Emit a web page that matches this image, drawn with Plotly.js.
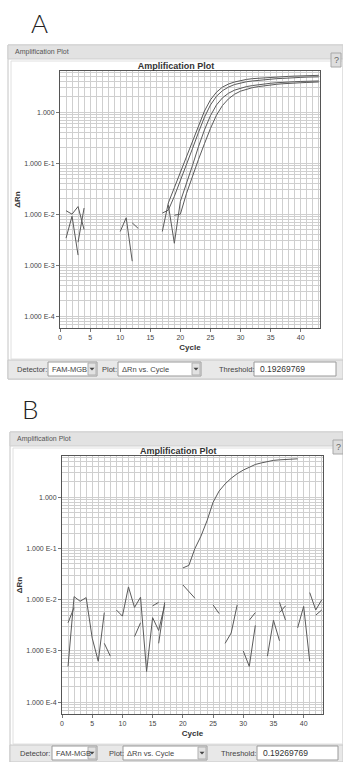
<!DOCTYPE html>
<html>
<head>
<meta charset="utf-8">
<script src="https://cdn.plot.ly/plotly-3.0.1.min.js"></script>
<style>
  html, body { margin: 0; padding: 0; background: #ffffff; }
  #chart { width: 343px; height: 762px; }
</style>
</head>
<body>
<div id="chart"></div>
<script>
// ---------- data ----------
const cycles = [0,1,2,3,4,5,6,7,8,9,10,11,12,13,14,15,16,17,18,19,20,21,22,23,24,25,26,27,28,29,30,31,32,33,34,35,36,37,38,39,40,41,42,43];

// Panel A: four amplified wells (ΔRn, null where ΔRn <= 0)
const wellA1 = [null,0.00339,0.00912,0.00158,null,null,null,null,null,null,0.00457,0.00851,0.0012,null,null,null,null,0.00457,0.0166,0.0331,0.0661,0.132,0.275,0.562,1.047,1.738,2.455,3.09,3.548,3.89,4.169,4.365,4.519,4.624,4.732,4.842,4.898,4.955,5.012,5.07,5.129,5.152,5.188,5.248];
const wellA2 = [null,0.0117,0.0100,0.0141,0.0050,null,null,null,null,null,null,null,null,null,null,null,null,0.0105,0.012,0.0224,0.0447,0.0891,0.191,0.398,0.794,1.38,2.042,2.63,3.09,3.467,3.715,3.936,4.074,4.217,4.315,4.416,4.519,4.571,4.677,4.732,4.786,4.842,4.898,4.898];
const wellA3 = [null,null,null,null,null,null,null,null,null,null,null,null,0.00676,0.00525,null,null,null,null,0.0151,0.00269,0.0178,0.038,0.0891,0.209,0.447,0.851,1.38,1.905,2.344,2.692,2.951,3.162,3.311,3.467,3.589,3.673,3.758,3.846,3.89,3.936,3.981,4.027,4.074,4.074];
const wellA4 = [null,null,null,0.00282,0.0132,null,null,null,null,null,null,null,null,null,null,null,null,null,null,0.00955,0.01,0.0251,0.0562,0.1175,0.24,0.479,0.871,1.349,1.82,2.239,2.57,2.818,3.02,3.162,3.311,3.428,3.508,3.589,3.673,3.715,3.758,3.802,3.846,3.89];

// Panel B: one amplified well and three baseline (noise) wells
const wellB1 = [null,null,null,null,null,null,null,null,null,null,null,null,null,null,null,null,null,null,null,null,0.0417,0.0468,0.1,0.174,0.347,0.794,1.318,1.82,2.344,2.884,3.388,3.89,4.365,4.677,5.012,5.248,5.37,5.495,5.559,5.623,null,null,null,null];
const wellB2 = [null,0.0005,0.0115,0.00933,0.011,0.00178,0.00063,0.00562,null,0.00631,0.00479,0.0178,0.00708,0.0112,0.000398,0.00447,0.00251,0.00794,null,null,null,null,null,null,null,0.00794,0.00537,null,null,null,0.001,0.0005,0.00316,null,0.000794,0.00398,0.00158,null,null,0.00282,0.00741,0.00063,null,null];
const wellB3 = [null,0.00355,0.00708,null,null,null,null,null,null,null,null,null,0.00191,0.00355,null,0.00759,0.00891,null,null,null,0.0195,0.0141,0.0107,null,null,null,null,0.00141,0.00224,0.00794,null,0.00398,0.00562,null,null,null,0.00891,0.00398,null,null,null,0.0138,0.00631,0.01];
const wellB4 = [null,null,null,null,null,null,null,0.00141,0.000794,null,null,null,null,null,null,null,0.00141,0.00891,null,null,null,null,null,null,null,null,null,null,null,null,null,null,null,null,null,null,0.00562,0.00759,null,null,null,null,0.00501,0.00631];

const threshold = 0.19269769;
const yDecades = [0.0001, 0.001, 0.01, 0.1, 1];
const yTickLabels = ["1.000 E-4", "1.000 E-3", "1.000 E-2", "1.000 E-1", "1.000"];
const xTicks = [0, 5, 10, 15, 20, 25, 30, 35, 40];
const xTickLabels = ["0", "5", "10", "15", "20", "25", "30", "35", "40"];
const detectorName = "FAM-MGB";
const plotType = "ΔRn vs. Cycle";
const thresholdText = "0.19269769";

// ---------- layout helpers ----------
const W = 343, H = 762;
const X = v => v / W;
const Y = v => 1 - v / H;
const FONT = "Liberation Sans, Arial, sans-serif";
const TXT = "#444";
const GRID = "#cfcfcf";
const LINEC = "#555";

// minor log gridlines: 2..9 x each decade
const minorVals = [];
for (let e = -5; e <= 0; e++) {
  for (let k = 2; k <= 9; k++) minorVals.push(k * Math.pow(10, e));
}

function xAxis(domain, anchor) {
  return {
    domain: domain, anchor: anchor, range: [0, 43.2],
    tickmode: "array", tickvals: xTicks, ticktext: xTickLabels,
    ticks: "outside", ticklen: 3, tickcolor: "#777",
    tickfont: { family: FONT, size: 7, color: TXT },
    showgrid: true, gridcolor: GRID, gridwidth: 1,
    minor: { dtick: 1, showgrid: true, gridcolor: GRID, gridwidth: 1, ticks: "" },
    showline: true, linecolor: LINEC, linewidth: 1, mirror: true,
    zeroline: false, automargin: false, fixedrange: true,
    title: { text: "<b>Cycle</b>", font: { family: FONT, size: 8, color: "#333" }, standoff: 3 }
  };
}
function yAxis(domain, anchor) {
  return {
    domain: domain, anchor: anchor, type: "log", range: [-4.23, 0.805],
    tickmode: "array", tickvals: yDecades, ticktext: yTickLabels,
    ticks: "outside", ticklen: 3, tickcolor: "#777",
    tickfont: { family: FONT, size: 7, color: TXT },
    showgrid: true, gridcolor: GRID, gridwidth: 1,
    minor: { tickmode: "array", tickvals: minorVals, showgrid: true, gridcolor: GRID, gridwidth: 1, ticks: "" },
    showline: true, linecolor: LINEC, linewidth: 1, mirror: true,
    zeroline: false, automargin: false, fixedrange: true,
    title: { text: "<b>ΔRn</b>", font: { family: FONT, size: 8, color: "#333" }, standoff: 2 }
  };
}

function line(xa, ya, y) {
  return { type: "scatter", mode: "lines", x: cycles, y: y, xaxis: xa, yaxis: ya,
    connectgaps: false, hoverinfo: "skip", showlegend: false,
    line: { color: "#5a5a5a", width: 1 } };
}

const data = [
  line("x", "y", wellA1), line("x", "y", wellA2), line("x", "y", wellA3), line("x", "y", wellA4),
  line("x2", "y2", wellB1), line("x2", "y2", wellB2), line("x2", "y2", wellB3), line("x2", "y2", wellB4)
];

// ---------- window chrome ----------
function rect(x0, y0, x1, y1, fill, lc, lw) {
  return { type: "rect", xref: "paper", yref: "paper", x0: X(x0), x1: X(x1), y0: Y(y1), y1: Y(y0),
    fillcolor: fill || "rgba(0,0,0,0)", line: { color: lc || "rgba(0,0,0,0)", width: lw === undefined ? 1 : lw }, layer: "below" };
}
function tri(cx, cy) {
  const p = (a, b) => X(a) + "," + Y(b);
  return { type: "path", xref: "paper", yref: "paper",
    path: "M" + p(cx - 2.5, cy - 1.2) + " L" + p(cx + 2.5, cy - 1.2) + " L" + p(cx, cy + 1.6) + " Z",
    fillcolor: "#444", line: { width: 0 } };
}
function txt(x, y, s, size, opts) {
  opts = opts || {};
  return { xref: "paper", yref: "paper", x: X(x), y: Y(y), text: s, showarrow: false,
    xanchor: opts.xanchor || "left", yanchor: "middle",
    font: { family: opts.family || FONT, size: size, color: opts.color || TXT, weight: opts.weight } };
}

function windowChrome(o) {
  const s = [], a = [];
  s.push(rect(o.left, o.top, 343, o.bottom, "#ffffff", "#c4c4c4", 1));
  s.push(rect(o.left, o.top, 343, o.top + 14, "#e2e2e2", "#cfcfcf", 1));
  s.push(rect(o.left + 3, o.top + 16, 343, o.barTop - 1, null, "#e0e0e0", 1));
  s.push(rect(o.left, o.barTop, 343, o.bottom, "#e8e8e8", "#c8c8c8", 1));
  // help button
  s.push(rect(o.qx0, o.qy0, o.qx0 + 10, o.qy0 + 14, "#dedede", "#a8a8a8", 1));
  a.push(txt(o.qx0 + 5, o.qy0 + 7, "?", 9, { xanchor: "center", color: "#666" }));
  a.push(txt(o.left + 5, o.top + 7, "Amplification Plot", 7, { color: "#555" }));
  // controls
  const cy = o.ctrlY, h0 = cy - 7, h1 = cy + 7;
  a.push(txt(o.det, cy, "Detector:", 7.5));
  s.push(rect(o.dd1[0], h0, o.dd1[1], h1, "#ffffff", "#9a9a9a", 1));
  s.push(rect(o.dd1[1] - 9, h0 + 1, o.dd1[1] - 1, h1 - 1, "#e2e2e2", "#b0b0b0", 1));
  s.push(tri(o.dd1[1] - 5, cy));
  a.push(txt(o.dd1[0] + 2, cy, detectorName, 7.5));
  a.push(txt(o.plot, cy, "Plot:", 7.5));
  s.push(rect(o.dd2[0], h0, o.dd2[1], h1, "#ffffff", "#9a9a9a", 1));
  s.push(rect(o.dd2[1] - 9, h0 + 1, o.dd2[1] - 1, h1 - 1, "#e2e2e2", "#b0b0b0", 1));
  s.push(tri(o.dd2[1] - 5, cy));
  a.push(txt(o.dd2[0] + 2, cy, plotType, 7.5));
  a.push(txt(o.thr, cy, "Threshold:", 7.5));
  s.push(rect(o.tb[0], h0, o.tb[1], h1, "#ffffff", "#9a9a9a", 1));
  a.push(txt(o.tb[0] + 4, cy, thresholdText, 8.5, { color: "#333" }));
  return { s: s, a: a };
}

const chromeA = windowChrome({ left: 8, top: 45, bottom: 379, barTop: 360, qx0: 331, qy0: 53,
  ctrlY: 369, det: 15, dd1: [48, 97], plot: 100, dd2: [118, 201], thr: 217, tb: [254, 336] });
const chromeB = windowChrome({ left: 10, top: 432, bottom: 762, barTop: 745, qx0: 333, qy0: 440,
  ctrlY: 753, det: 18, dd1: [52, 97], plot: 107, dd2: [123, 207], thr: 219, tb: [257, 338] });

const thresholdShapes = [
  { type: "line", xref: "x domain", yref: "y", x0: 0, x1: 1.012, y0: Math.log10(threshold), y1: Math.log10(threshold),
    line: { color: "#555", width: 1.6 } },
  { type: "line", xref: "x2 domain", yref: "y2", x0: 0, x1: 1.01, y0: Math.log10(threshold), y1: Math.log10(threshold),
    line: { color: "#555", width: 1.6 } }
];

const annotations = [].concat(chromeA.a, chromeB.a, [
  txt(39, 23, "A", 26, { xanchor: "center", family: "Lato, Liberation Sans, sans-serif", color: "#222", weight: 300 }),
  txt(30, 409, "B", 26, { xanchor: "center", family: "Lato, Liberation Sans, sans-serif", color: "#222", weight: 300 }),
  txt(178, 451, "<b>Amplification Plot</b>", 9, { xanchor: "center", color: "#333" })
]);

const layout = {
  width: W, height: H,
  margin: { l: 0, r: 0, t: 0, b: 0, pad: 0 },
  paper_bgcolor: "#ffffff", plot_bgcolor: "#ffffff",
  showlegend: false,
  title: { text: "<b>Amplification Plot</b>", font: { family: FONT, size: 9, color: "#333" },
    xref: "paper", yref: "paper", x: X(176), y: Y(66), xanchor: "center", yanchor: "middle" },
  xaxis: xAxis([X(60), X(320)], "y"),
  yaxis: yAxis([Y(328), Y(71)], "x"),
  xaxis2: xAxis([X(62), X(323)], "y2"),
  yaxis2: yAxis([Y(714), Y(456)], "x2"),
  shapes: [].concat(chromeA.s, chromeB.s, thresholdShapes),
  annotations: annotations
};

Plotly.newPlot("chart", data, layout, { displayModeBar: false, staticPlot: true });
</script>
</body>
</html>
